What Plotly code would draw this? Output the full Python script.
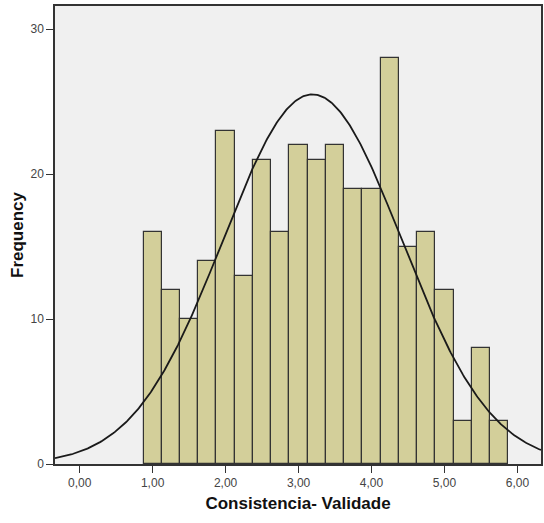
import numpy as np
import plotly.graph_objects as go

# Histogram data (bin centers, counts)
bin_centers = [1.00, 1.25, 1.50, 1.75, 2.00, 2.25, 2.50, 2.75, 3.00, 3.25,
               3.50, 3.75, 4.00, 4.25, 4.50, 4.75, 5.00, 5.25, 5.50, 5.75]
counts = [16, 12, 10, 14, 23, 13, 21, 16, 22, 21,
          22, 19, 19, 28, 15, 16, 12, 3, 8, 3]
bin_width = 0.25

# Normal curve parameters
mean_val = 3.19
std_val = 1.224
n_total = sum(counts)

x_tick_vals = [0, 1, 2, 3, 4, 5, 6]
x_tick_text = ["0,00", "1,00", "2,00", "3,00", "4,00", "5,00", "6,00"]
y_tick_vals = [0, 10, 20, 30]

x_range = [-0.338, 6.323]
y_range = [0, 31.6]

xs = np.linspace(x_range[0], x_range[1], 400)
ys = n_total * bin_width / (std_val * np.sqrt(2 * np.pi)) * np.exp(-0.5 * ((xs - mean_val) / std_val) ** 2)

fig = go.Figure()
fig.add_trace(go.Bar(
    x=bin_centers, y=counts, width=bin_width,
    marker=dict(color="#D3CF9A", line=dict(color="#333333", width=1.2)),
    showlegend=False, hoverinfo="x+y",
))
fig.add_trace(go.Scatter(
    x=xs, y=ys, mode="lines",
    line=dict(color="#1a1a1a", width=1.8),
    showlegend=False, hoverinfo="skip",
))

fig.update_layout(
    width=544, height=523,
    margin=dict(l=55, r=1, t=6, b=59),
    paper_bgcolor="white",
    plot_bgcolor="#F0F0F0",
    bargap=0,
    font=dict(family="Liberation Sans, Arial, sans-serif", size=12, color="#333333"),
    xaxis=dict(
        range=x_range, tickvals=x_tick_vals, ticktext=x_tick_text,
        showgrid=False, zeroline=False,
        showline=True, linecolor="#333333", linewidth=1.5,
        ticks="outside", ticklen=7, tickwidth=1.2, tickcolor="#333333",
        mirror=True,
        title=dict(text="<b>Consistencia- Validade</b>",
                   font=dict(size=17, color="#111111"), standoff=8),
        tickfont=dict(size=12, color="#444444"),
    ),
    yaxis=dict(
        range=y_range, tickvals=y_tick_vals,
        showgrid=False, zeroline=False,
        showline=True, linecolor="#333333", linewidth=1.5,
        ticks="outside", ticklen=7, tickwidth=1.2, tickcolor="#333333",
        mirror=True,
        title=dict(text="<b>Frequency</b>",
                   font=dict(size=17, color="#111111"), standoff=3),
        tickfont=dict(size=12, color="#444444"),
    ),
)

fig.write_html("out.html")
